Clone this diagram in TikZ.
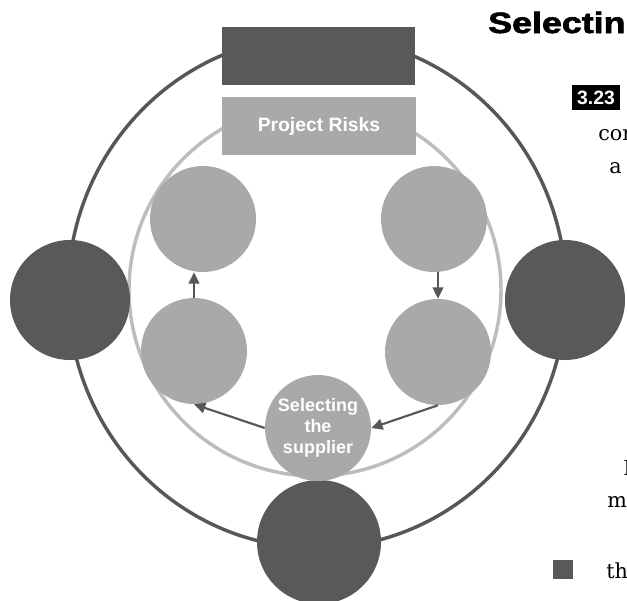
\documentclass[tikz,border=0pt]{standalone}
\usepackage{fontspec}
\usepackage{graphicx}
\setmainfont{Liberation Sans}
\newfontfamily\bodyfont{DejaVu Serif}
\newfontfamily\headfont[BoldFeatures={FakeBold=2}]{Liberation Sans}
\usetikzlibrary{arrows.meta}
\definecolor{darkg}{HTML}{595959}
\definecolor{lightg}{HTML}{A9A9A9}
\definecolor{ringlight}{HTML}{BDBDBD}
\definecolor{ringdark}{HTML}{575757}
\tikzset{
  darkdisc/.style={circle, fill=darkg, inner sep=0pt, minimum size=90pt},
  lightdisc/.style={circle, fill=lightg, inner sep=0pt, minimum size=79.5pt,
    text=white, font=\bfseries\fontsize{13.5}{15.8}\selectfont, align=center},
  darkbox/.style={rectangle, fill=darkg, inner sep=0pt, minimum width=144.75pt, minimum height=43.5pt},
  lightbox/.style={rectangle, fill=lightg, inner sep=0pt, minimum width=145.5pt, minimum height=43.5pt,
    text=white, font=\bfseries\fontsize{14.5}{17}\selectfont},
  flowarrow/.style={draw=ringdark, line width=1.6pt, -{Triangle[length=8.5pt,width=8pt]}},
  bodytext/.style={anchor=base west, inner sep=0pt, font=\bodyfont\fontsize{15.5}{18}\selectfont}
}
\begin{document}
\begin{tikzpicture}[x=0.75pt,y=-0.75pt]
\useasboundingbox (0,0) rectangle (627,600);
\clip (0,0) rectangle (627,600);
% rings
\draw[ringdark, line width=2.6pt] (317,292) ellipse [x radius=249, y radius=256];
\draw[ringlight, line width=2.6pt] (315,290) circle [radius=186];
% boxes
\node[darkbox] (top) at (318.5,56) {};
\node[lightbox] (risks) at (319,126) {Project Risks};
% outer discs
\node[darkdisc] (left) at (70,300) {};
\node[darkdisc] (right) at (565,300) {};
\node[darkdisc, minimum size=93pt] (bottom) at (319,542) {};
% inner discs
\node[lightdisc] (tl) at (203,219) {};
\node[lightdisc] (tr) at (434,219) {};
\node[lightdisc] (bl) at (194,351) {};
\node[lightdisc] (br) at (438,352) {};
\node[lightdisc] (sel) at (318,428) {Selecting\\the\\supplier};
% arrows
\draw[flowarrow] (bl.north) -- (bl.north |- tl.south);
\draw[flowarrow] (br.north |- tr.south) -- (br.north);
\draw[flowarrow] (sel.west) -- (bl.south);
\draw[flowarrow] (br.south) -- (sel.east);
% right-hand page text
\node[anchor=base west, inner sep=0pt, font=\headfont\bfseries\fontsize{22}{26}\selectfont] (head) at (488,33) {\scalebox{1.22}[1]{Selectin}};
\node[fill=black, text=white, inner sep=0pt, minimum width=36pt, minimum height=18.75pt,
  font=\bfseries\fontsize{14.5}{16}\selectfont] (num) at (596,97.5) {3.23};
\node[bodytext] (t1) at (598,140) {con};
\node[bodytext] (t2) at (609,173) {a};
\node[bodytext] (t3) at (623,475) {I};
\node[bodytext] (t4) at (607,507) {m};
\node[fill=darkg, inner sep=0pt, minimum width=15pt, minimum height=14.25pt] (sq) at (563,569.5) {};
\node[bodytext] (t5) at (606,578) {th};
\end{tikzpicture}
\end{document}
